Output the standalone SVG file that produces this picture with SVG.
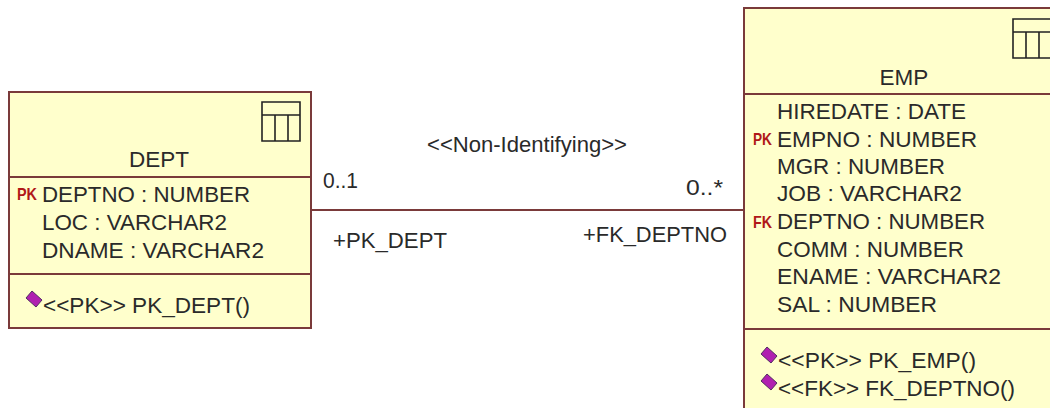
<svg xmlns="http://www.w3.org/2000/svg" width="1050" height="408" viewBox="0 0 1050 408">
<style>
.box{fill:#ffffcc;stroke:#7a3a3a;stroke-width:2}
.div{stroke:#7a3a3a;stroke-width:2;fill:none}
.ic{fill:none;stroke:#222;stroke-width:1.6}
text{font-family:"Liberation Sans",Arial,sans-serif;font-size:22.5px;fill:#2a2a2a}
text.key{font-size:17px;font-weight:bold;fill:#b01818;font-family:"Liberation Sans",sans-serif}
.m{fill:#b020b0;stroke:#503060;stroke-width:1}
</style>
<defs>
<path id="gem" class="m" d="M-1 -7L9 2L3 9L-7 0Z"/>
</defs>
<rect width="1050" height="408" fill="#fff"/>
<g id="connectors"><line class="div" x1="312" y1="210" x2="744" y2="210"/></g>
<g id="labels">
<text x="427" y="152" textLength="200" lengthAdjust="spacingAndGlyphs">&lt;&lt;Non-Identifying&gt;&gt;</text>
<text x="323" y="188" textLength="35" lengthAdjust="spacingAndGlyphs">0..1</text>
<text x="686" y="195" textLength="37" lengthAdjust="spacingAndGlyphs">0..*</text>
<text x="333" y="248" textLength="114" lengthAdjust="spacingAndGlyphs">+PK_DEPT</text>
<text x="583" y="242" textLength="144" lengthAdjust="spacingAndGlyphs">+FK_DEPTNO</text>
</g>
<g id="dept">
<rect class="box" x="9" y="92" width="302" height="236"/>
<path class="div" d="M9 177H311M9 274H311"/>
<path class="ic" d="M262 102H300V141H262ZM262 115H300M275 115V141M288 115V141"/>
<text x="159" y="167" text-anchor="middle">DEPT</text>
<text class="key" x="17" y="200" textLength="20" lengthAdjust="spacingAndGlyphs">PK</text>
<text x="42" y="202" textLength="208" lengthAdjust="spacingAndGlyphs">DEPTNO : NUMBER</text>
<text x="42" y="230" textLength="185" lengthAdjust="spacingAndGlyphs">LOC : VARCHAR2</text>
<text x="42" y="258" textLength="222" lengthAdjust="spacingAndGlyphs">DNAME : VARCHAR2</text>
<use href="#gem" x="33" y="298"/>
<text x="43" y="313" textLength="207" lengthAdjust="spacingAndGlyphs">&lt;&lt;PK&gt;&gt; PK_DEPT()</text>
</g>
<g id="emp">
<rect class="box" x="744" y="8" width="320" height="412"/>
<path class="div" d="M744 94H1060M744 329H1060"/>
<path class="ic" d="M1013 19H1060V58H1013ZM1013 32H1060M1026 32V58M1039 32V58"/>
<text x="904" y="85" text-anchor="middle">EMP</text>
<text x="777" y="119" textLength="189" lengthAdjust="spacingAndGlyphs">HIREDATE : DATE</text>
<text class="key" x="753" y="145" textLength="19" lengthAdjust="spacingAndGlyphs">PK</text>
<text x="777" y="147" textLength="200" lengthAdjust="spacingAndGlyphs">EMPNO : NUMBER</text>
<text x="777" y="174" textLength="168" lengthAdjust="spacingAndGlyphs">MGR : NUMBER</text>
<text x="777" y="201" textLength="185" lengthAdjust="spacingAndGlyphs">JOB : VARCHAR2</text>
<text class="key" x="753" y="228" textLength="19" lengthAdjust="spacingAndGlyphs">FK</text>
<text x="777" y="229" textLength="208" lengthAdjust="spacingAndGlyphs">DEPTNO : NUMBER</text>
<text x="777" y="257" textLength="187" lengthAdjust="spacingAndGlyphs">COMM : NUMBER</text>
<text x="777" y="284" textLength="224" lengthAdjust="spacingAndGlyphs">ENAME : VARCHAR2</text>
<text x="777" y="312" textLength="160" lengthAdjust="spacingAndGlyphs">SAL : NUMBER</text>
<use href="#gem" x="768" y="354"/>
<use href="#gem" x="768" y="381"/>
<text x="778" y="368" textLength="198" lengthAdjust="spacingAndGlyphs">&lt;&lt;PK&gt;&gt; PK_EMP()</text>
<text x="778" y="396" textLength="237" lengthAdjust="spacingAndGlyphs">&lt;&lt;FK&gt;&gt; FK_DEPTNO()</text>
</g>
</svg>
